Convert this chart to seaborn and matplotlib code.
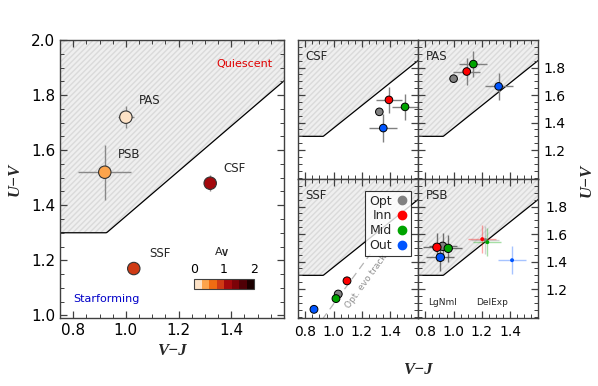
import numpy as np
import pandas as pd
import seaborn as sns
import matplotlib.pyplot as plt
from matplotlib.colors import ListedColormap, BoundaryNorm
from matplotlib.cm import ScalarMappable
from matplotlib.ticker import MultipleLocator
from matplotlib.lines import Line2D

# Left panel: global UVJ position of each class
left_names = ['PAS', 'PSB', 'CSF', 'SSF']
left_vj = [1.00, 0.92, 1.32, 1.03]
left_uv = [1.72, 1.52, 1.48, 1.17]
left_vj_err = [0.03, 0.10, 0.02, 0.0]
left_uv_err = [0.04, 0.10, 0.03, 0.0]
left_av = [0.10, 0.40, 1.10, 0.85]

# A_V colour bins
av_colors = ['#fde2c6', '#fca44c', '#f06c12', '#cf3a14', '#a3080c', '#7c0208', '#500006', '#1c0000']
av_bounds = np.linspace(0, 2, 9)

# Right panels: per-region points (Opt, Inn, Mid, Out)
regions = ['Opt', 'Inn', 'Mid', 'Out']
region_colors = ['#808080', '#ff0000', '#00a400', '#0055ff']

csf_vj = [1.324, 1.392, 1.506, 1.352]
csf_uv = [1.478, 1.565, 1.514, 1.360]
csf_vj_err = [0.02, 0.095, 0.095, 0.10]
csf_uv_err = [0.02, 0.095, 0.095, 0.10]

pas_vj = [1.000, 1.093, 1.140, 1.319]
pas_uv = [1.719, 1.771, 1.825, 1.663]
pas_vj_err = [0.027, 0.097, 0.10, 0.10]
pas_uv_err = [0.02, 0.096, 0.096, 0.10]

ssf_vj = [1.033, 1.095, 1.017, 0.861]
ssf_uv = [1.164, 1.260, 1.131, 1.053]

psb_ln_vj = [0.923, 0.882, 0.962, 0.906]
psb_ln_uv = [1.511, 1.504, 1.496, 1.431]
psb_ln_err = [0.10, 0.10, 0.10, 0.10]

psb_de_vj = [1.225, 1.203, 1.239, 1.414]
psb_de_uv = [1.556, 1.563, 1.541, 1.410]
psb_de_err = [0.10, 0.10, 0.10, 0.10]

track_vj = [0.92, 1.26]
track_uv = [0.98, 1.455]

XLIM = (0.75, 1.6)
YLIM = (0.99, 2.0)

sns.set_style("ticks")
plt.rcParams['font.family'] = ['DejaVu Sans']
plt.rcParams.update({
    'axes.axisbelow': False,
    'axes.edgecolor': '#404040',
    'axes.linewidth': 1.0,
    'xtick.color': '#404040',
    'ytick.color': '#404040',
    'xtick.labelcolor': 'black',
    'ytick.labelcolor': 'black',
    'xtick.direction': 'in',
    'ytick.direction': 'in',
    'xtick.top': True,
    'ytick.right': True,
    'xtick.major.size': 5,
    'ytick.major.size': 5,
    'xtick.minor.size': 3,
    'ytick.minor.size': 3,
    'xtick.major.width': 0.9,
    'ytick.major.width': 0.9,
    'xtick.minor.width': 0.7,
    'ytick.minor.width': 0.7,
})

label_font = dict(family='Liberation Serif', weight='bold', style='italic', size=12)


def uvj_line(x):
    return np.maximum(1.3, 0.82 * np.asarray(x) + 0.54)


def setup(ax, labelsize):
    ax.set_xlim(*XLIM)
    ax.set_ylim(*YLIM)
    xx = np.linspace(XLIM[0], XLIM[1], 200)
    ax.fill_between(xx, uvj_line(xx), 2.1, facecolor='#efefef', edgecolor='#dadada',
                    hatch='//////', linewidth=0, zorder=0)
    ax.plot(xx, uvj_line(xx), color='black', lw=0.9, zorder=1)
    ax.xaxis.set_minor_locator(MultipleLocator(0.05))
    ax.yaxis.set_minor_locator(MultipleLocator(0.05))
    ax.tick_params(labelsize=labelsize)


fig = plt.figure(figsize=(5.98, 3.86), dpi=100)

# ---- left panel
ax0 = fig.add_axes([0.1003, 0.176, 0.3746, 0.720])
setup(ax0, 11)
ax0.set_xticks([0.8, 1.0, 1.2, 1.4])
ax0.set_yticks([1.0, 1.2, 1.4, 1.6, 1.8, 2.0])
ax0.xaxis.set_major_formatter(lambda v, p: f'{v:.1f}')
ax0.yaxis.set_major_formatter(lambda v, p: f'{v:.1f}')
ax0.errorbar(left_vj, left_uv, xerr=left_vj_err, yerr=left_uv_err, fmt='none',
             ecolor='#888888', elinewidth=1.0, zorder=2)
df_left = pd.DataFrame({'vj': left_vj, 'uv': left_uv, 'av': left_av, 'name': left_names})
av_cmap = ListedColormap(av_colors)
av_norm = BoundaryNorm(av_bounds, av_cmap.N)
sns.scatterplot(data=df_left, x='vj', y='uv', hue='av', palette=av_cmap, hue_norm=av_norm,
                s=80, edgecolor='#333333', linewidth=0.8,
                legend=False, ax=ax0, zorder=3)
ax0.set_xlabel('V\u2212J', fontdict=label_font, labelpad=4)
ax0.set_ylabel('U\u2212V', fontdict=label_font, labelpad=6)
label_pos = {'PAS': (1.05, 1.78), 'PSB': (0.97, 1.585), 'CSF': (1.37, 1.535), 'SSF': (1.09, 1.225)}
for n in left_names:
    ax0.text(*label_pos[n], n, fontsize=8.5, ha='left', va='center')
ax0.text(1.555, 1.915, 'Quiescent', color='#e00000', fontsize=8, ha='right', va='center')
ax0.text(0.80, 1.06, 'Starforming', color='#0000c8', fontsize=8, ha='left', va='center')

# colour bar for A_V
cax = fig.add_axes([194 / 598, 1 - 289 / 386, 60 / 598, 10 / 386])
cb = fig.colorbar(ScalarMappable(norm=av_norm, cmap=av_cmap), cax=cax, orientation='horizontal',
                  ticks=[0, 1, 2])
cb.outline.set_linewidth(0.8)
cb.outline.set_edgecolor('#404040')
cax.xaxis.set_ticks_position('top')
cax.tick_params(which='both', length=0, labelsize=9, pad=2)
cax.minorticks_off()
cax.xaxis.set_major_formatter(lambda v, p: f'{v:.0f}')
fig.text(222 / 598, 1 - 252 / 386, r'A$_{\mathbf{V}}$', fontsize=8, ha='center', va='center')

# ---- right grid
W = 120 / 598
H = 139 / 386
x0 = 298.3 / 598
bottoms = [1 - 318 / 386 + H, 1 - 318 / 386]
ax_csf = fig.add_axes([x0, bottoms[0], W, H])
ax_pas = fig.add_axes([x0 + W, bottoms[0], W, H])
ax_ssf = fig.add_axes([x0, bottoms[1], W, H])
ax_psb = fig.add_axes([x0 + W, bottoms[1], W, H])

for ax, title in zip([ax_csf, ax_pas, ax_ssf, ax_psb], ['CSF', 'PAS', 'SSF', 'PSB']):
    setup(ax, 10)
    ax.set_xticks([0.8, 1.0, 1.2, 1.4])
    ax.set_yticks([1.2, 1.4, 1.6, 1.8])
    ax.xaxis.set_major_formatter(lambda v, p: f'{v:.1f}')
    ax.yaxis.set_major_formatter(lambda v, p: f'{v:.1f}')
    ax.tick_params(labelleft=False, labelbottom=False)
    ax.text(0.06, 0.93, title, transform=ax.transAxes, fontsize=8.5, ha='left', va='top')

for ax in [ax_pas, ax_psb]:
    ax.tick_params(labelright=True, pad=4)
for ax in [ax_ssf, ax_psb]:
    ax.tick_params(labelbottom=True, pad=5)


def region_points(ax, vj, uv, xerr=None, yerr=None, s=30, ecolor='#808080', ealpha=1.0):
    if xerr is not None:
        for i in range(len(vj)):
            ec = ecolor if ecolor is not None else region_colors[i]
            ax.errorbar(vj[i], uv[i], xerr=xerr[i], yerr=yerr[i], fmt='none', ecolor=ec,
                        elinewidth=1.0, alpha=ealpha, zorder=2)
    df = pd.DataFrame({'vj': vj, 'uv': uv, 'region': regions})
    sns.scatterplot(data=df, x='vj', y='uv', hue='region', palette=dict(zip(regions, region_colors)),
                    s=s, edgecolor='black' if s > 15 else 'none', linewidth=0.7,
                    legend=False, ax=ax, zorder=3)
    ax.set_xlabel('')
    ax.set_ylabel('')


region_points(ax_csf, csf_vj, csf_uv, csf_vj_err, csf_uv_err)
region_points(ax_pas, pas_vj, pas_uv, pas_vj_err, pas_uv_err)
region_points(ax_ssf, ssf_vj, ssf_uv, s=32)
region_points(ax_psb, psb_ln_vj, psb_ln_uv, psb_ln_err, psb_ln_err, s=36, ecolor='#444444', ealpha=0.75)
region_points(ax_psb, psb_de_vj, psb_de_uv, psb_de_err, psb_de_err, s=8, ecolor=None, ealpha=0.35)

ax_ssf.plot(track_vj, track_uv, color='#b4b4b4', lw=0.9, dashes=(6, 4), zorder=1)
ax_ssf.text(1.235, 1.255, 'Opt. evo track', color='#909090', fontsize=6.5, rotation=54,
            ha='center', va='center')
handles = [Line2D([], [], ls='none', marker='o', markersize=6, color=c) for c in region_colors]
leg = ax_ssf.legend(handles, regions, loc='upper right', bbox_to_anchor=(0.935, 0.915),
                    markerfirst=False, fontsize=9, frameon=True, fancybox=False,
                    handlelength=0.8, handletextpad=0.4, labelspacing=0.15, borderpad=0.3,
                    borderaxespad=0)
leg.get_frame().set_edgecolor('black')
leg.get_frame().set_linewidth(0.8)
for t in leg.get_texts():
    t.set_ha('right')

ax_psb.text(0.92, 1.105, 'LgNml', fontsize=6.5, ha='center', va='center')
ax_psb.text(1.27, 1.105, 'DelExp', fontsize=6.5, ha='center', va='center')

fig.text(418 / 598, 1 - 370 / 386, 'V\u2212J', fontdict=label_font, ha='center', va='center')
fig.text(587 / 598, 1 - 180 / 386, 'U\u2212V', fontdict=label_font, ha='center', va='center',
         rotation=90)

fig.savefig('out.png', dpi=100)
